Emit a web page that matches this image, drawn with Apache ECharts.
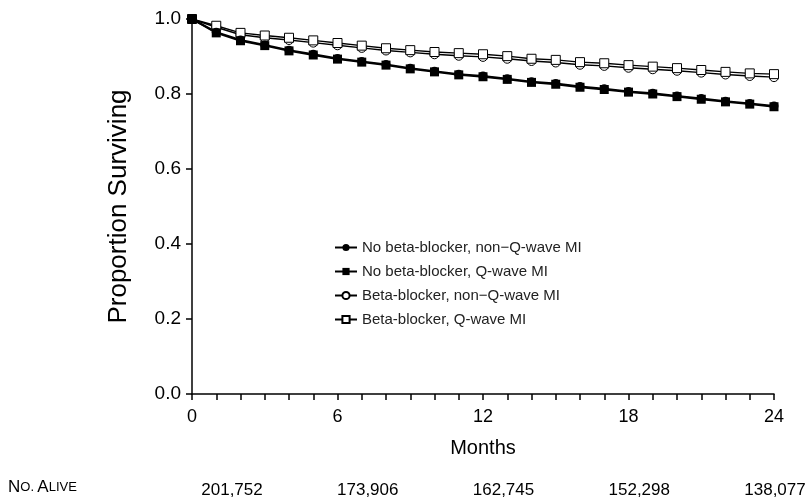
<!DOCTYPE html>
<html>
<head>
<meta charset="utf-8">
<script src="https://cdn.jsdelivr.net/npm/echarts@6/dist/echarts.min.js"></script>
<style>
  html, body { margin: 0; padding: 0; background: #fff; }
  #chart { width: 809px; height: 504px; }
</style>
</head>
<body>
<div id="chart"></div>
<script>
const months = [0, 1, 2, 3, 4, 5, 6, 7, 8, 9, 10, 11, 12, 13, 14, 15, 16, 17, 18, 19, 20, 21, 22, 23, 24]

const noBbNonQ = [1.0, 0.965, 0.944, 0.931, 0.917, 0.906, 0.895, 0.887, 0.879, 0.869, 0.861, 0.853, 0.848, 0.841, 0.833, 0.828, 0.820, 0.814, 0.807, 0.802, 0.795, 0.788, 0.781, 0.775, 0.768]
const noBbQ = [1.0, 0.963, 0.942, 0.929, 0.915, 0.904, 0.893, 0.885, 0.877, 0.867, 0.859, 0.851, 0.846, 0.839, 0.831, 0.826, 0.818, 0.812, 0.805, 0.800, 0.793, 0.786, 0.779, 0.773, 0.766]
const bbNonQ = [1.0, 0.978, 0.958, 0.950, 0.944, 0.937, 0.930, 0.923, 0.916, 0.911, 0.906, 0.902, 0.899, 0.894, 0.888, 0.884, 0.878, 0.875, 0.870, 0.866, 0.862, 0.857, 0.852, 0.848, 0.845]
const bbQ = [1.0, 0.982, 0.963, 0.956, 0.950, 0.943, 0.936, 0.929, 0.922, 0.917, 0.912, 0.909, 0.906, 0.901, 0.894, 0.891, 0.885, 0.882, 0.877, 0.873, 0.869, 0.864, 0.859, 0.855, 0.853]

const seriesNames = [
  'No beta-blocker, non\u2212Q-wave MI',
  'No beta-blocker, Q-wave MI',
  'Beta-blocker, non\u2212Q-wave MI',
  'Beta-blocker, Q-wave MI'
]

const aliveCounts = ['201,752', '173,906', '162,745', '152,298', '138,077']

const font = 'Liberation Sans, Arial, sans-serif'
const chart = echarts.init(document.getElementById('chart'))

const pairs = (arr) => months.map((m, i) => [m, arr[i]])

const makeSeries = (name, data, symbol, filled) => ({
  name,
  type: 'line',
  data: pairs(data),
  symbol,
  symbolSize: 9,
  showSymbol: true,
  animation: false,
  lineStyle: { color: '#000', width: filled ? 2 : 1.5 },
  itemStyle: {
    color: filled ? '#000' : '#fff',
    borderColor: '#000',
    borderWidth: filled ? 0 : 1
  },
  emphasis: { disabled: true }
})

const option = {
  animation: false,
  grid: { left: 192, right: 35, top: 19, bottom: 110 },
  legend: {
    orient: 'vertical',
    left: 329,
    top: 235,
    itemWidth: 22,
    itemHeight: 9,
    itemGap: 9,
    textStyle: { fontFamily: font, fontSize: 15, color: '#222' },
    data: seriesNames
  },
  xAxis: {
    type: 'value',
    min: 0,
    max: 24,
    interval: 1,
    name: 'Months',
    nameLocation: 'middle',
    nameGap: 44,
    nameTextStyle: { fontFamily: font, fontSize: 20, color: '#000' },
    axisLine: { lineStyle: { color: '#000', width: 1.5 } },
    axisTick: { inside: false, length: 6, lineStyle: { color: '#000', width: 1.5 } },
    axisLabel: {
      fontFamily: font, fontSize: 18, color: '#000', margin: 14,
      formatter: (v) => (v % 6 === 0 ? String(v) : '')
    },
    splitLine: { show: false }
  },
  yAxis: {
    type: 'value',
    min: 0,
    max: 1,
    interval: 0.2,
    name: 'Proportion Surviving',
    nameLocation: 'middle',
    nameGap: 60,
    nameTextStyle: { fontFamily: font, fontSize: 26, color: '#000' },
    axisLine: { show: true, lineStyle: { color: '#000', width: 1.5 } },
    axisTick: { show: true, inside: false, length: 6, lineStyle: { color: '#000', width: 1.5 } },
    axisLabel: {
      fontFamily: font, fontSize: 19, color: '#000', margin: 11,
      formatter: (v) => v.toFixed(1)
    },
    splitLine: { show: false }
  },
  series: [
    makeSeries(seriesNames[2], bbNonQ, 'circle', false),
    makeSeries(seriesNames[3], bbQ, 'rect', false),
    makeSeries(seriesNames[0], noBbNonQ, 'circle', true),
    makeSeries(seriesNames[1], noBbQ, 'rect', true)
  ]
}

chart.setOption(option)

// number-at-risk row: evenly spaced columns under the plot
const rowY = 490
const firstCol = 232
const lastCol = 775
const graphics = [{
  type: 'text',
  left: 8,
  top: rowY - 11,
  style: {
    text: '{a|N}{b|O.} {a|A}{b|LIVE}',
    rich: {
      a: { fontFamily: font, fontSize: 17, fill: '#000' },
      b: { fontFamily: font, fontSize: 13, fill: '#000' }
    }
  }
}]
aliveCounts.forEach((txt, i) => {
  graphics.push({
    type: 'text',
    x: firstCol + (lastCol - firstCol) * i / (aliveCounts.length - 1),
    y: rowY,
    style: {
      text: txt,
      fontFamily: font,
      fontSize: 17,
      fill: '#000',
      align: 'center',
      verticalAlign: 'middle'
    }
  })
})
chart.setOption({ graphic: graphics })
</script>
</body>
</html>
